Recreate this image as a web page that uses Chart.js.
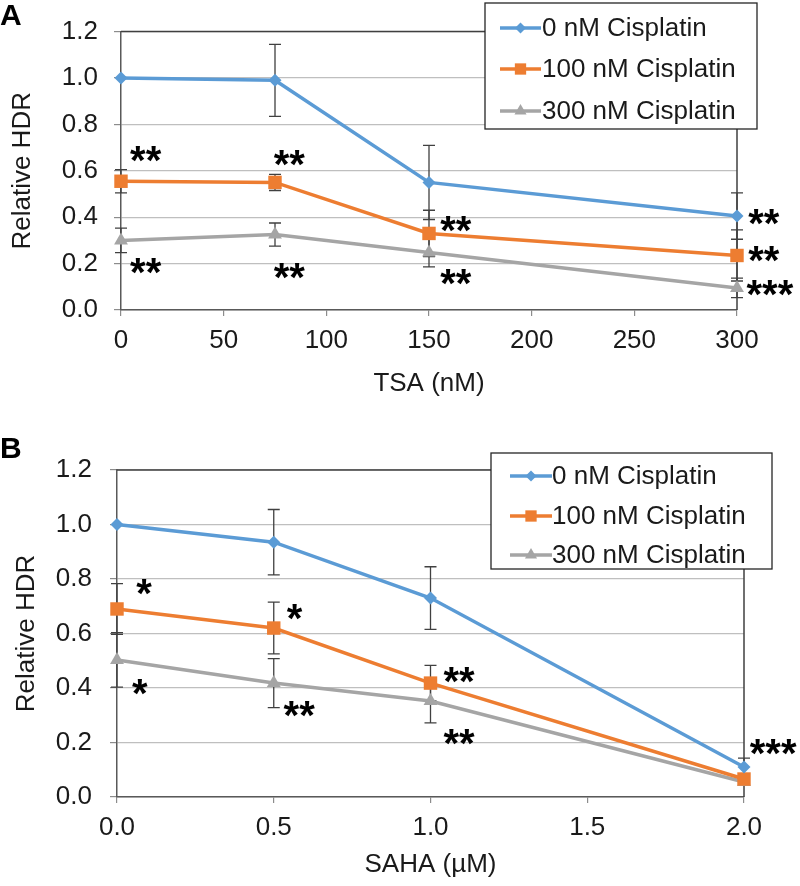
<!DOCTYPE html>
<html><head><meta charset="utf-8">
<script src="https://cdn.jsdelivr.net/npm/chart.js@4.4.1/dist/chart.umd.min.js"></script>
<style>
html,body{margin:0;padding:0;background:#fff;}
#wrap{position:relative;width:800px;height:886px;overflow:hidden;background:#fff;}
.panel{position:absolute;left:0;width:800px;}
</style></head>
<body>
<div id="wrap">
  <div class="panel" style="top:0;height:430px"><canvas id="cA"></canvas></div>
  <div class="panel" style="top:430px;height:456px"><canvas id="cB"></canvas></div>
</div>
<script>
// ---------- data ----------
const seriesLabels = ['0 nM Cisplatin', '100 nM Cisplatin', '300 nM Cisplatin'];
const seriesColors = ['#5B9BD5', '#ED7D31', '#A5A5A5'];
const seriesMarkers = ['rectRot', 'rect', 'triangle'];

// Panel A: TSA (nM)
const tsaDose = [0, 75, 150, 300];
const tsa0 = [1.00, 0.99, 0.55, 0.405];
const tsa0Err = [0, 0.155, 0.16, 0.10];
const tsa100 = [0.555, 0.55, 0.33, 0.235];
const tsa100Err = [0.05, 0.035, 0.10, 0.11];
const tsa300 = [0.30, 0.325, 0.248, 0.095];
const tsa300Err = [0.053, 0.05, 0.062, 0.042];
const tsaStarX = [12, 82, 12, 82, 163, 163, 313, 313, 316];
const tsaStarY = [0.683, 0.662, 0.20, 0.178, 0.38, 0.153, 0.41, 0.248, 0.103];
const tsaStarText = ['**', '**', '**', '**', '**', '**', '**', '**', '***'];

// Panel B: SAHA (µM)
const sahaDose = [0, 0.5, 1.0, 2.0];
const saha0 = [1.00, 0.935, 0.73, 0.11];
const saha0Err = [0, 0.12, 0.115, 0.033];
const saha100 = [0.69, 0.62, 0.418, 0.066];
const saha100Err = [0.093, 0.095, 0.065, 0.01];
const saha300 = [0.503, 0.418, 0.352, 0.055];
const saha300Err = [0.10, 0.09, 0.08, 0.01];
const sahaStarX = [0.086, 0.566, 0.073, 0.581, 1.091, 1.091, 2.093];
const sahaStarY = [0.778, 0.686, 0.411, 0.33, 0.455, 0.228, 0.191];
const sahaStarText = ['*', '*', '*', '**', '**', '**', '***'];

// ---------- helpers ----------
const FONT = "'Liberation Sans', Arial, Helvetica, sans-serif";
Chart.defaults.font.family = FONT;
Chart.defaults.color = '#1a1a1a';

function drawMarker(ctx, style, x, y, r, color) {
  ctx.save();
  ctx.fillStyle = color;
  ctx.beginPath();
  if (style === 'rectRot') {
    ctx.moveTo(x - r, y); ctx.lineTo(x, y - r); ctx.lineTo(x + r, y); ctx.lineTo(x, y + r);
  } else if (style === 'rect') {
    const s = r * 0.707; ctx.rect(x - s, y - s, 2 * s, 2 * s);
  } else {
    ctx.moveTo(x, y - r); ctx.lineTo(x + r * 0.866, y + r * 0.5); ctx.lineTo(x - r * 0.866, y + r * 0.5);
  }
  ctx.closePath(); ctx.fill();
  ctx.restore();
}

function makeDataset(i, xs, ys, errs) {
  const radius = [6.5, 9.5, 8][i];
  return {
    label: seriesLabels[i],
    data: xs.map((x, k) => ({x: x, y: ys[k]})),
    errors: errs,
    borderColor: seriesColors[i],
    backgroundColor: seriesColors[i],
    borderWidth: 3.5,
    pointStyle: seriesMarkers[i],
    pointRadius: radius,
    pointBorderWidth: 0,
    pointBackgroundColor: seriesColors[i],
    tension: 0,
    clip: false
  };
}

const errorBars = {
  id: 'errorBars',
  beforeDatasetsDraw(chart) {
    const {ctx, scales: {x, y}} = chart;
    ctx.save();
    ctx.strokeStyle = '#404040';
    ctx.lineWidth = 1.3;
    chart.data.datasets.forEach(ds => {
      ds.data.forEach((p, i) => {
        const e = ds.errors[i];
        if (!e) return;
        const px = x.getPixelForValue(p.x);
        const t = y.getPixelForValue(p.y + e);
        const b = y.getPixelForValue(p.y - e);
        ctx.beginPath();
        ctx.moveTo(px, t); ctx.lineTo(px, b);
        ctx.moveTo(px - 6, t); ctx.lineTo(px + 6, t);
        ctx.moveTo(px - 6, b); ctx.lineTo(px + 6, b);
        ctx.stroke();
      });
    });
    ctx.restore();
  }
};

const frame = {
  id: 'frame',
  beforeDatasetsDraw(chart) {
    const {ctx, chartArea: a} = chart;
    ctx.save();
    ctx.strokeStyle = '#404040';
    ctx.lineWidth = 1.5;
    ctx.beginPath();
    ctx.moveTo(a.left, a.top); ctx.lineTo(a.right, a.top); ctx.lineTo(a.right, a.bottom);
    ctx.stroke();
    ctx.restore();
  }
};

const extras = {
  id: 'extras',
  afterDraw(chart, args, opts) {
    const {ctx, scales: {x, y}} = chart;
    ctx.save();
    // significance stars
    ctx.fillStyle = '#000';
    ctx.font = 'bold 40px ' + FONT;
    ctx.textAlign = 'center';
    ctx.textBaseline = 'alphabetic';
    opts.starX.forEach((sx, i) => {
      const px = x.getPixelForValue(sx);
      const py = y.getPixelForValue(opts.starY[i]);
      ctx.fillText(opts.starText[i], px, py + 0.55 * 40);
    });
    // panel letter
    ctx.font = 'bold 30px ' + FONT;
    ctx.textAlign = 'left';
    ctx.fillText(opts.tag, opts.tagX, opts.tagY);
    // legend box
    const L = opts.legend;
    ctx.fillStyle = '#fff';
    ctx.fillRect(L.x, L.y, L.w, L.h);
    ctx.strokeStyle = '#262626';
    ctx.lineWidth = 1.3;
    ctx.strokeRect(L.x, L.y, L.w, L.h);
    ctx.font = '26px ' + FONT;
    ctx.textBaseline = 'middle';
    chart.data.datasets.forEach((ds, i) => {
      const ry = L.rows[i];
      ctx.strokeStyle = ds.borderColor;
      ctx.lineWidth = 3.5;
      ctx.beginPath(); ctx.moveTo(L.lineX0, ry); ctx.lineTo(L.lineX1, ry); ctx.stroke();
      drawMarker(ctx, ds.pointStyle, (L.lineX0 + L.lineX1) / 2, ry, [5.5, 8, 7][i], ds.borderColor);
      ctx.fillStyle = '#1a1a1a';
      ctx.fillText(ds.label, L.textX, ry + 1);
    });
    ctx.restore();
  }
};

function makeChart(id, cfg) {
  return new Chart(document.getElementById(id), {
    type: 'line',
    data: {datasets: cfg.datasets},
    plugins: [frame, errorBars, extras],
    options: {
      responsive: true,
      maintainAspectRatio: false,
      animation: false,
      devicePixelRatio: 1,
      layout: {padding: cfg.padding},
      plugins: {
        legend: {display: false},
        tooltip: {enabled: false},
        extras: cfg.extras
      },
      scales: {
        x: {
          type: 'linear',
          min: cfg.xMin, max: cfg.xMax,
          afterFit: s => { s.height = cfg.xHeight; },
          ticks: {stepSize: cfg.xStep, padding: 9, font: {size: 26}, color: '#1a1a1a',
                  callback: cfg.xFmt},
          grid: {drawOnChartArea: false, drawTicks: true, tickLength: 6, color: '#8c8c8c', lineWidth: 1.2},
          border: {color: '#595959', width: 1.5},
          title: {display: true, text: cfg.xTitle, font: {size: 26}, color: '#1a1a1a',
                  padding: {top: 0, bottom: cfg.xTitlePad}}
        },
        y: {
          min: 0, max: 1.2,
          afterFit: s => { s.width = cfg.yWidth; },
          ticks: {stepSize: 0.2, padding: cfg.yTickPad, font: {size: 26}, color: '#1a1a1a',
                  callback: v => Number(v).toFixed(1)},
          grid: {color: '#BFBFBF', lineWidth: 1.2, tickLength: 7, tickColor: '#8c8c8c'},
          border: {color: '#595959', width: 1.5},
          title: {display: true, text: 'Relative HDR', font: {size: 26}, color: '#1a1a1a',
                  padding: {top: cfg.yTitlePad, bottom: 0}}
        }
      }
    }
  });
}

makeChart('cA', {
  datasets: [
    makeDataset(0, tsaDose, tsa0, tsa0Err),
    makeDataset(1, tsaDose, tsa100, tsa100Err),
    makeDataset(2, tsaDose, tsa300, tsa300Err)
  ],
  padding: {left: 0, right: 63, top: 21, bottom: 0},
  xMin: 0, xMax: 300, xStep: 50, xFmt: v => String(v),
  xHeight: 120, xTitle: 'TSA (nM)', xTitlePad: 31,
  yWidth: 121, yTickPad: 16, yTitlePad: 7,
  extras: {
    starX: tsaStarX, starY: tsaStarY, starText: tsaStarText,
    tag: 'A', tagX: 0, tagY: 25,
    legend: {x: 485, y: 3, w: 272, h: 126, rows: [28, 69, 111], lineX0: 500, lineX1: 541, textX: 542}
  }
});

makeChart('cB', {
  datasets: [
    makeDataset(0, sahaDose, saha0, saha0Err),
    makeDataset(1, sahaDose, saha100, saha100Err),
    makeDataset(2, sahaDose, saha300, saha300Err)
  ],
  padding: {left: 0, right: 56, top: 40, bottom: 0},
  xMin: 0, xMax: 2, xStep: 0.5, xFmt: v => Number(v).toFixed(1),
  xHeight: 89, xTitle: 'SAHA (µM)', xTitlePad: 6,
  yWidth: 117, yTickPad: 18, yTitlePad: 11,
  extras: {
    starX: sahaStarX, starY: sahaStarY, starText: sahaStarText,
    tag: 'B', tagX: 0, tagY: 28,
    legend: {x: 491, y: 23, w: 281, h: 116, rows: [46, 86, 125], lineX0: 510, lineX1: 552, textX: 552}
  }
});
</script>
</body></html>
